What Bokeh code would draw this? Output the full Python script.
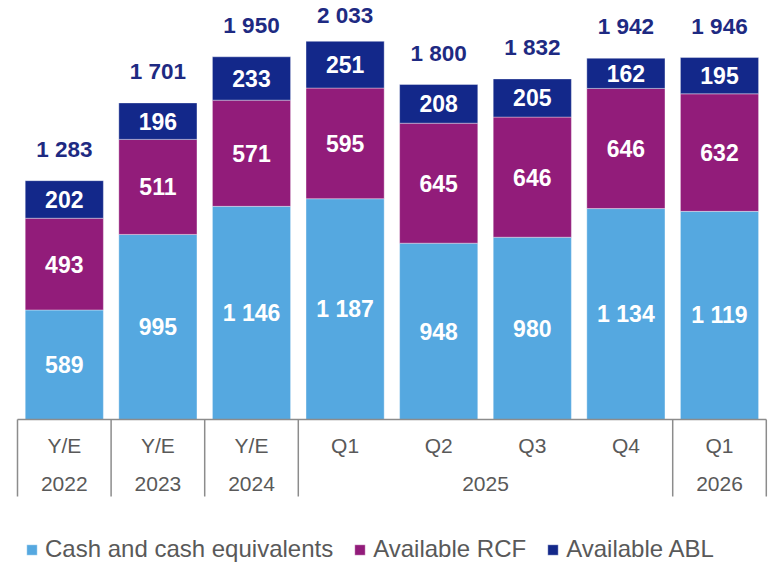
from bokeh.plotting import figure
from bokeh.models import ColumnDataSource, Range1d, Legend, LegendItem
from bokeh.core.properties import value
from bokeh.embed import file_html
from bokeh.resources import INLINE

# ---- data ----
period_labels = ["Y/E", "Y/E", "Y/E", "Q1", "Q2", "Q3", "Q4", "Q1"]
year_labels = ["2022", "2023", "2024", "2025", "2026"]
year_spans = [1, 1, 1, 4, 1]          # number of periods per year group
cash = [589, 995, 1146, 1187, 948, 980, 1134, 1119]
rcf = [493, 511, 571, 595, 645, 646, 646, 632]
abl = [202, 196, 233, 251, 208, 205, 162, 195]
totals = [1283, 1701, 1950, 2033, 1800, 1832, 1942, 1946]
series_names = ["Cash and cash equivalents", "Available RCF", "Available ABL"]
colors = ["#55A8E0", "#921C7A", "#13288A"]

def fmt(v):
    return f"{v:,}".replace(",", " ")

# ---- geometry (pixels) ----
W, H = 769, 563
K = 0.186            # px per unit
SLOT = 93.6          # px per category
LEFT_PX = 17         # left table edge in canvas px
BASE_PX = 419        # baseline in canvas px (from top)

x0 = -LEFT_PX / SLOT
x1 = (W - LEFT_PX) / SLOT
y1 = BASE_PX / K
y0 = -(H - BASE_PX) / K

p = figure(width=W, height=H, output_backend="svg", toolbar_location=None,
           x_range=Range1d(x0, x1), y_range=Range1d(y0, y1),
           min_border=0, min_border_left=0, min_border_right=0,
           min_border_top=0, min_border_bottom=0)
p.axis.visible = False
p.grid.visible = False
p.outline_line_color = None
p.background_fill_color = "white"
p.border_fill_color = "white"

n = len(cash)
xs = [i + 0.5 for i in range(n)]
c_top = cash
r_top = [c + r for c, r in zip(cash, rcf)]
a_top = [c + r + a for c, r, a in zip(cash, rcf, abl)]
src = ColumnDataSource(dict(x=xs, cash=cash, rcf=rcf, abl=abl,
                            c0=[0] * n, c1=c_top, r1=r_top, a1=a_top))

bw = 0.835
vb_c = p.vbar(x="x", bottom="c0", top="c1", width=bw, source=src,
              fill_color=colors[0], line_color="white", line_width=0.6, line_alpha=0.6)
vb_r = p.vbar(x="x", bottom="c1", top="r1", width=bw, source=src,
              fill_color=colors[1], line_color="white", line_width=0.6, line_alpha=0.6)
vb_a = p.vbar(x="x", bottom="r1", top="a1", width=bw, source=src,
              fill_color=colors[2], line_color="white", line_width=0.6, line_alpha=0.6)

# segment labels
lab = dict(x=xs * 3,
           y=[c / 2 for c in cash] + [c + r / 2 for c, r in zip(cash, rcf)]
             + [rt + a / 2 for rt, a in zip(r_top, abl)],
           t=[fmt(v) for v in cash + rcf + abl])
p.text(x="x", y="y", text="t", source=ColumnDataSource(lab),
       text_align="center", text_baseline="middle", text_color="white",
       text_font=value("Liberation Sans"), text_font_style="bold",
       text_font_size="23px")

# totals
tot_y = [min(t + 31.5 / K, y1 - 15 / K) for t in a_top]
p.text(x=xs, y=tot_y, text=[fmt(t) for t in totals],
       text_align="center", text_baseline="middle", text_color="#1E2A82",
       text_font=value("Liberation Sans"), text_font_style="bold",
       text_font_size="22.5px")

# ---- category table ----
line_col = "#8C8C8C"
tbl_bottom = -77 / K
p.segment(x0=[0], y0=[0], x1=[n], y1=[0], line_color=line_col, line_width=1.5)
bounds = [0]
for s in year_spans:
    bounds.append(bounds[-1] + s)
p.segment(x0=bounds, y0=[0] * len(bounds), x1=bounds, y1=[tbl_bottom] * len(bounds),
          line_color=line_col, line_width=1.5)

p.text(x=xs, y=[-26 / K] * n, text=period_labels, text_align="center",
       text_baseline="middle", text_color="#595959",
       text_font=value("Liberation Sans"), text_font_size="21px")
year_x = [(bounds[i] + bounds[i + 1]) / 2 for i in range(len(year_spans))]
p.text(x=year_x, y=[-64.5 / K] * len(year_x), text=year_labels, text_align="center",
       text_baseline="middle", text_color="#595959",
       text_font=value("Liberation Sans"), text_font_size="21px")

# ---- legend ----
legend = Legend(items=[LegendItem(label=series_names[0], renderers=[vb_c]),
                       LegendItem(label=series_names[1], renderers=[vb_r]),
                       LegendItem(label=series_names[2], renderers=[vb_a])],
                orientation="horizontal", location=(25, 0),
                glyph_width=13, glyph_height=13, label_standoff=7, spacing=20,
                label_text_font="Liberation Sans", label_text_font_size="24px",
                label_text_color="#595959", padding=0, margin=0,
                border_line_color=None, background_fill_alpha=0,
                label_height=26)
p.add_layout(legend, "center")

open("out.html", "w").write(file_html(p, INLINE))
